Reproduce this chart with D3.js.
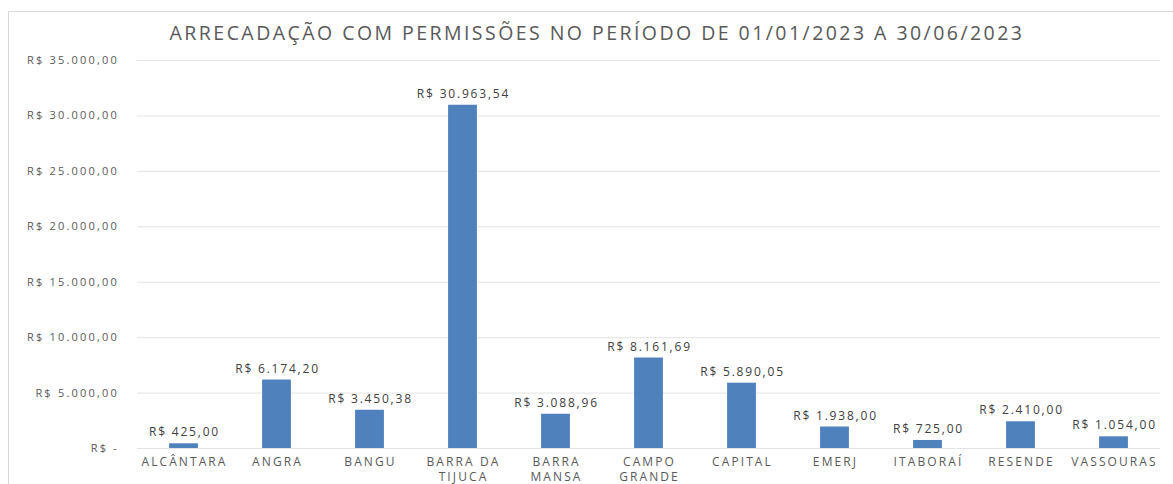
<!DOCTYPE html>
<html><head><meta charset="utf-8">
<script src="https://cdn.jsdelivr.net/npm/d3@7"></script>
<style>body{margin:0;background:#fff}svg{display:block}</style>
</head><body>
<script>
const categories = [["ALCÂNTARA"],["ANGRA"],["BANGU"],["BARRA DA","TIJUCA"],["BARRA","MANSA"],["CAMPO","GRANDE"],["CAPITAL"],["EMERJ"],["ITABORAÍ"],["RESENDE"],["VASSOURAS"]];
const values = [425.00, 6174.20, 3450.38, 30963.54, 3088.96, 8161.69, 5890.05, 1938.00, 725.00, 2410.00, 1054.00];
const yTicks = [0, 5000, 10000, 15000, 20000, 25000, 30000, 35000];
const title = "ARRECADAÇÃO COM PERMISSÕES NO PERÍODO DE 01/01/2023 A 30/06/2023";

const W = 1173, H = 484;
const svg = d3.select("body").append("svg").attr("width", W).attr("height", H);
const font = "'Open Sans', sans-serif";
svg.append("rect").attr("x", 8.5).attr("y", 11.5).attr("width", W).attr("height", H)
  .attr("fill", "#fff").attr("stroke", "#d9d9d9");

const m = {l: 137, r: 1160, t: 60, b: 448};
const x = d3.scaleBand().domain(d3.range(categories.length)).range([m.l, m.r]).paddingInner(0.69).paddingOuter(0.345);
const y = d3.scaleLinear().domain([0, 35000]).range([m.b, m.t]);

const fmt = v => v === 0 ? "R$ -" : "R$ " + v.toLocaleString("pt-BR", {minimumFractionDigits: 2, maximumFractionDigits: 2});

svg.append("text").attr("x", 597).attr("y", 40).attr("text-anchor", "middle")
  .attr("font-family", font).attr("font-size", 19.5).attr("fill", "#595959").attr("letter-spacing", 2.45).text(title);

const yAxis = svg.append("g").attr("transform", `translate(${m.l},0)`)
  .call(d3.axisLeft(y).tickValues(yTicks).tickSize(-(m.r - m.l)).tickPadding(18).tickFormat(fmt));
yAxis.select(".domain").remove();
yAxis.selectAll(".tick line").attr("stroke", "#e3e3e3");
yAxis.selectAll(".tick text").attr("font-family", font).attr("font-size", 11).attr("fill", "#595959").attr("letter-spacing", 2.2);

svg.append("g").selectAll("rect").data(values).join("rect")
  .attr("x", (d, i) => x(i)).attr("width", x.bandwidth())
  .attr("y", d => y(d)).attr("height", d => y(0) - y(d)).attr("fill", "#4f81bd");

svg.append("g").selectAll("text").data(values).join("text")
  .attr("x", (d, i) => x(i) + x.bandwidth() / 2 + 1).attr("y", d => y(d) - 7)
  .attr("text-anchor", "middle").attr("font-family", font).attr("font-size", 12).attr("fill", "#404040")
  .attr("letter-spacing", 1.8).text(fmt);

const xl = svg.append("g").selectAll("text").data(categories).join("text")
  .attr("x", (d, i) => x(i) + x.bandwidth() / 2 + 1).attr("y", 466)
  .attr("text-anchor", "middle").attr("font-family", font).attr("font-size", 12).attr("fill", "#595959").attr("letter-spacing", 2.1);
xl.each(function(d) {
  const t = d3.select(this);
  d.forEach((line, j) => t.append("tspan").attr("x", t.attr("x")).attr("dy", j === 0 ? 0 : 15).text(line));
});
</script>
</body></html>
